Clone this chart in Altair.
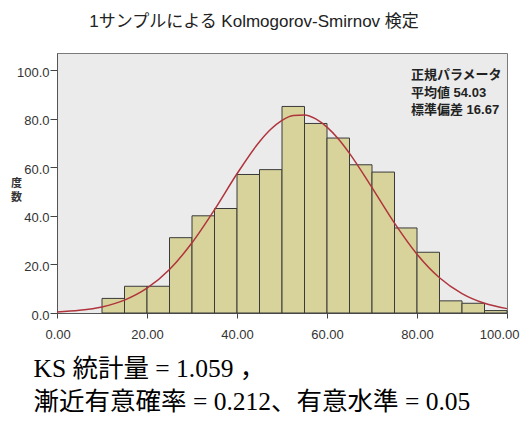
import altair as alt
import pandas as pd

# Histogram bins (width 5) and frequencies
bin_start = [10, 15, 20, 25, 30, 35, 40, 45, 50, 55, 60, 65, 70, 75, 80, 85, 90, 95]
bin_end = [15, 20, 25, 30, 35, 40, 45, 50, 55, 60, 65, 70, 75, 80, 85, 90, 95, 100]
counts = [6, 11, 11, 31, 40, 43, 57, 59, 85, 78, 72, 61, 58, 35, 25, 5, 4, 1]

# Fitted normal curve
curve_x = [0, 5, 10, 15, 20, 25, 30, 35, 40, 45, 47.5, 50, 52.5, 55, 57.5, 60, 62.5,
           65, 70, 75, 80, 85, 90, 95, 100]
curve_y = [0.4, 1.1, 2.5, 5.3, 10.2, 17.9, 28.9, 42.5, 57.3, 70.5, 75.6, 79.3, 81.3,
           81.5, 79.9, 76.5, 71.7, 65.7, 51.6, 37.0, 24.2, 14.5, 8.0, 4.0, 1.8]

x_ticks = [0, 20, 40, 60, 80, 100]
y_ticks = [0, 20, 40, 60, 80, 100]

title_text = "1サンプルによる Kolmogorov-Smirnov 検定"
y_title = ["度", "数"]
param_lines = ["正規パラメータ", "平均値 54.03", "標準偏差 16.67"]
bottom_lines = ["KS 統計量 = 1.059 ，", "漸近有意確率 = 0.212、有意水準 = 0.05"]

bars_df = pd.DataFrame({"start": bin_start, "end": bin_end, "count": counts})
curve_df = pd.DataFrame({"x": curve_x, "y": curve_y})

label_font = "Liberation Sans Narrow, Liberation Sans, Noto Sans CJK JP"

x_axis = alt.Axis(
    values=x_ticks, format=".2f", grid=False,
    labelFlush=True, labelFlushOffset=12,
    labelFont=label_font, labelFontSize=13, labelColor="#333333",
    labelBaseline="alphabetic", labelPadding=20,
    tickSize=5, tickColor="#444444", domainColor="#555555",
    title=bottom_lines, titleFont="Liberation Serif, Noto Sans CJK JP",
    titleFontSize=25.5, titleFontWeight="normal", titleColor="#000000",
    titleAlign="left", titleAnchor="start", titleX=-24, titleY=63,
    titleBaseline="alphabetic", titleLineHeight=33,
)

y_axis = alt.Axis(
    values=y_ticks, format=".1f", grid=False, labelFlush=False,
    labelFont=label_font, labelFontSize=13, labelColor="#333333",
    labelPadding=1, labelOffset=2,
    tickSize=7, tickColor="#444444", domainColor="#555555",
    title=y_title, titleFont="Noto Sans CJK JP", titleFontSize=11,
    titleFontWeight="bold", titleColor="#333333", titleAngle=0,
    titleX=-41, titleY=130, titleAlign="center", titleBaseline="middle",
    titleLineHeight=14,
)

xs = alt.Scale(domain=[0, 100], nice=False)
ys = alt.Scale(domain=[0, 107], nice=False)

bars = alt.Chart(bars_df).mark_bar(
    fill="#d7d39b", stroke="#3a3a3a", strokeWidth=1
).encode(
    x=alt.X("start:Q", scale=xs, axis=x_axis),
    x2="end:Q",
    y=alt.Y("count:Q", scale=ys, axis=y_axis),
    y2=alt.datum(0),
)

curve = alt.Chart(curve_df).mark_line(
    color="#b0343c", strokeWidth=1.5, interpolate="monotone"
).encode(
    x=alt.X("x:Q", scale=xs),
    y=alt.Y("y:Q", scale=ys),
)


def label_text(line, xpos, ypos, size, weight, align):
    return alt.Chart(alt.Data(values=[{"k": 1}])).mark_text(
        text=line, align=align, baseline="middle",
        font=label_font, fontSize=size, fontWeight=weight, color="#222222",
    ).encode(x=alt.value(xpos), y=alt.value(ypos))


notes = [label_text(t, 354, yp, 13, "bold", "left")
         for t, yp in zip(param_lines, [22, 39.5, 57])]
title_mark = label_text(title_text, 197, -31, 17, "normal", "center")

chart = alt.layer(bars, curve, *notes, title_mark).properties(
    width=450, height=260,
    padding={"left": 49, "top": 45, "right": 14, "bottom": 100},
    autosize="none",
).configure_view(
    fill="#ebebeb", stroke="#7a7a7a", strokeWidth=1
)

chart.save("out.html", embed_options={"renderer": "svg", "actions": False})
